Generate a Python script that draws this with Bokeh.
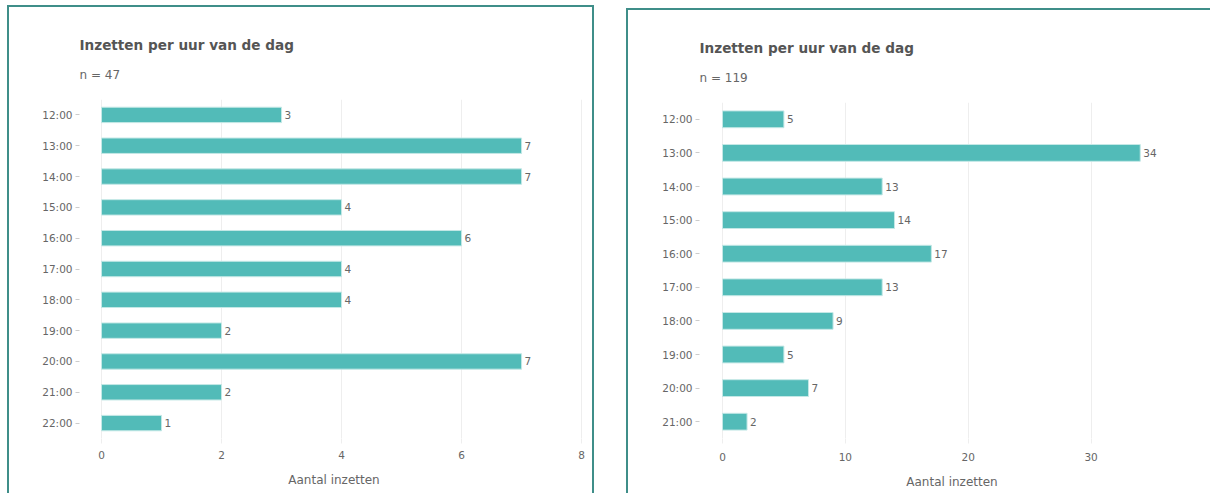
from bokeh.plotting import figure
from bokeh.layouts import row
from bokeh.models import FactorRange, Range1d, Title, ColumnDataSource, FixedTicker
from bokeh.embed import file_html
from bokeh.resources import INLINE
from bokeh.core.properties import value

# ---------------- data ----------------
TITLE = "Inzetten per uur van de dag"
X_LABEL = "Aantal inzetten"

left_hours = ["12:00", "13:00", "14:00", "15:00", "16:00", "17:00",
              "18:00", "19:00", "20:00", "21:00", "22:00"]
left_counts = [3, 7, 7, 4, 6, 4, 4, 2, 7, 2, 1]
left_n = 47
left_ticks = [0, 2, 4, 6, 8]

right_hours = ["12:00", "13:00", "14:00", "15:00", "16:00", "17:00",
               "18:00", "19:00", "20:00", "21:00"]
right_counts = [5, 34, 13, 14, 17, 13, 9, 5, 7, 2]
right_n = 119
right_ticks = [0, 10, 20, 30]

# ---------------- style ----------------
FONT = "DejaVu Sans"
BAR = "#52bbb8"
BAR_EDGE = "#c4e8e6"
TEXT = "#666666"
TITLE_C = "#555555"
GRID = "#eeeeee"
BORDER = "#3f8e89"


def make_panel(hours, counts, n, ticks, x_start, x_end, width, height,
               mb_left, mb_right, mb_bottom, tick_standoff, styles):
    src = ColumnDataSource(dict(hour=hours, count=counts,
                                label=[str(c) for c in counts]))
    p = figure(y_range=FactorRange(*reversed(hours)),
               x_range=Range1d(x_start, x_end),
               width=width, height=height,
               output_backend="svg", toolbar_location=None,
               min_border_left=mb_left, min_border_right=mb_right,
               min_border_top=92, min_border_bottom=mb_bottom)
    p.hbar(y="hour", left=0, right="count", height=0.5, source=src,
           fill_color=BAR, line_color=BAR_EDGE, line_width=1)
    p.text(x="count", y="hour", text="label", source=src,
           x_offset=3, text_align="left", text_baseline="middle",
           text_font=value(FONT), text_font_size="10.5px", text_color=TEXT)

    sub = Title(text=f"n = {n}", text_font=FONT, text_font_size="12px",
                text_font_style="normal", text_color=TEXT, align="left",
                standoff=13,
                padding=dict(left=0, right=0, top=0, bottom=11))
    p.add_layout(sub, "above")
    ttl = Title(text=TITLE, text_font=FONT, text_font_size="13.6px",
                text_font_style="bold", text_color=TITLE_C, align="left",
                standoff=14)
    p.add_layout(ttl, "above")

    p.outline_line_color = None
    p.background_fill_color = "white"
    p.border_fill_color = "white"
    p.ygrid.grid_line_color = None
    p.xgrid.grid_line_color = GRID
    p.xgrid.ticker = FixedTicker(ticks=ticks)

    xa = p.xaxis[0]
    xa.ticker = FixedTicker(ticks=ticks)
    xa.axis_line_color = None
    xa.major_tick_line_color = GRID
    xa.major_tick_out = 5
    xa.major_tick_in = 0
    xa.minor_tick_line_color = None
    xa.major_label_standoff = tick_standoff
    xa.major_label_text_font = FONT
    xa.major_label_text_font_size = "10.5px"
    xa.major_label_text_color = TEXT
    xa.axis_label = X_LABEL
    xa.axis_label_text_font = FONT
    xa.axis_label_text_font_size = "12px"
    xa.axis_label_text_font_style = "normal"
    xa.axis_label_text_color = TEXT
    xa.axis_label_standoff = 11

    ya = p.yaxis[0]
    ya.axis_line_color = None
    ya.major_tick_line_color = "#cccccc"
    ya.major_tick_out = 4
    ya.major_tick_in = 0
    ya.minor_tick_line_color = None
    ya.major_label_standoff = 3
    ya.major_label_text_font = FONT
    ya.major_label_text_font_size = "10.5px"
    ya.major_label_text_color = TEXT

    p.styles = styles
    return p


p1 = make_panel(left_hours, left_counts, left_n, left_ticks,
                -0.367, 8.115, 587, 488, 70, 8, 57, 7,
                {"box-sizing": "border-box",
                 "border-top": f"2px solid {BORDER}",
                 "border-left": f"2px solid {BORDER}",
                 "border-right": f"2px solid {BORDER}",
                 "border-bottom": "none",
                 "margin-top": "5px", "margin-left": "7px"})
p2 = make_panel(right_hours, right_counts, right_n, right_ticks,
                -1.87, 39.23, 584, 485, 71, 8, 53, 9,
                {"box-sizing": "border-box",
                 "border-top": f"2px solid {BORDER}",
                 "border-left": f"2px solid {BORDER}",
                 "border-right": "none",
                 "border-bottom": "none",
                 "margin-top": "8px"})

layout = row(p1, p2, spacing=32)
open("out.html", "w").write(file_html(layout, INLINE))
